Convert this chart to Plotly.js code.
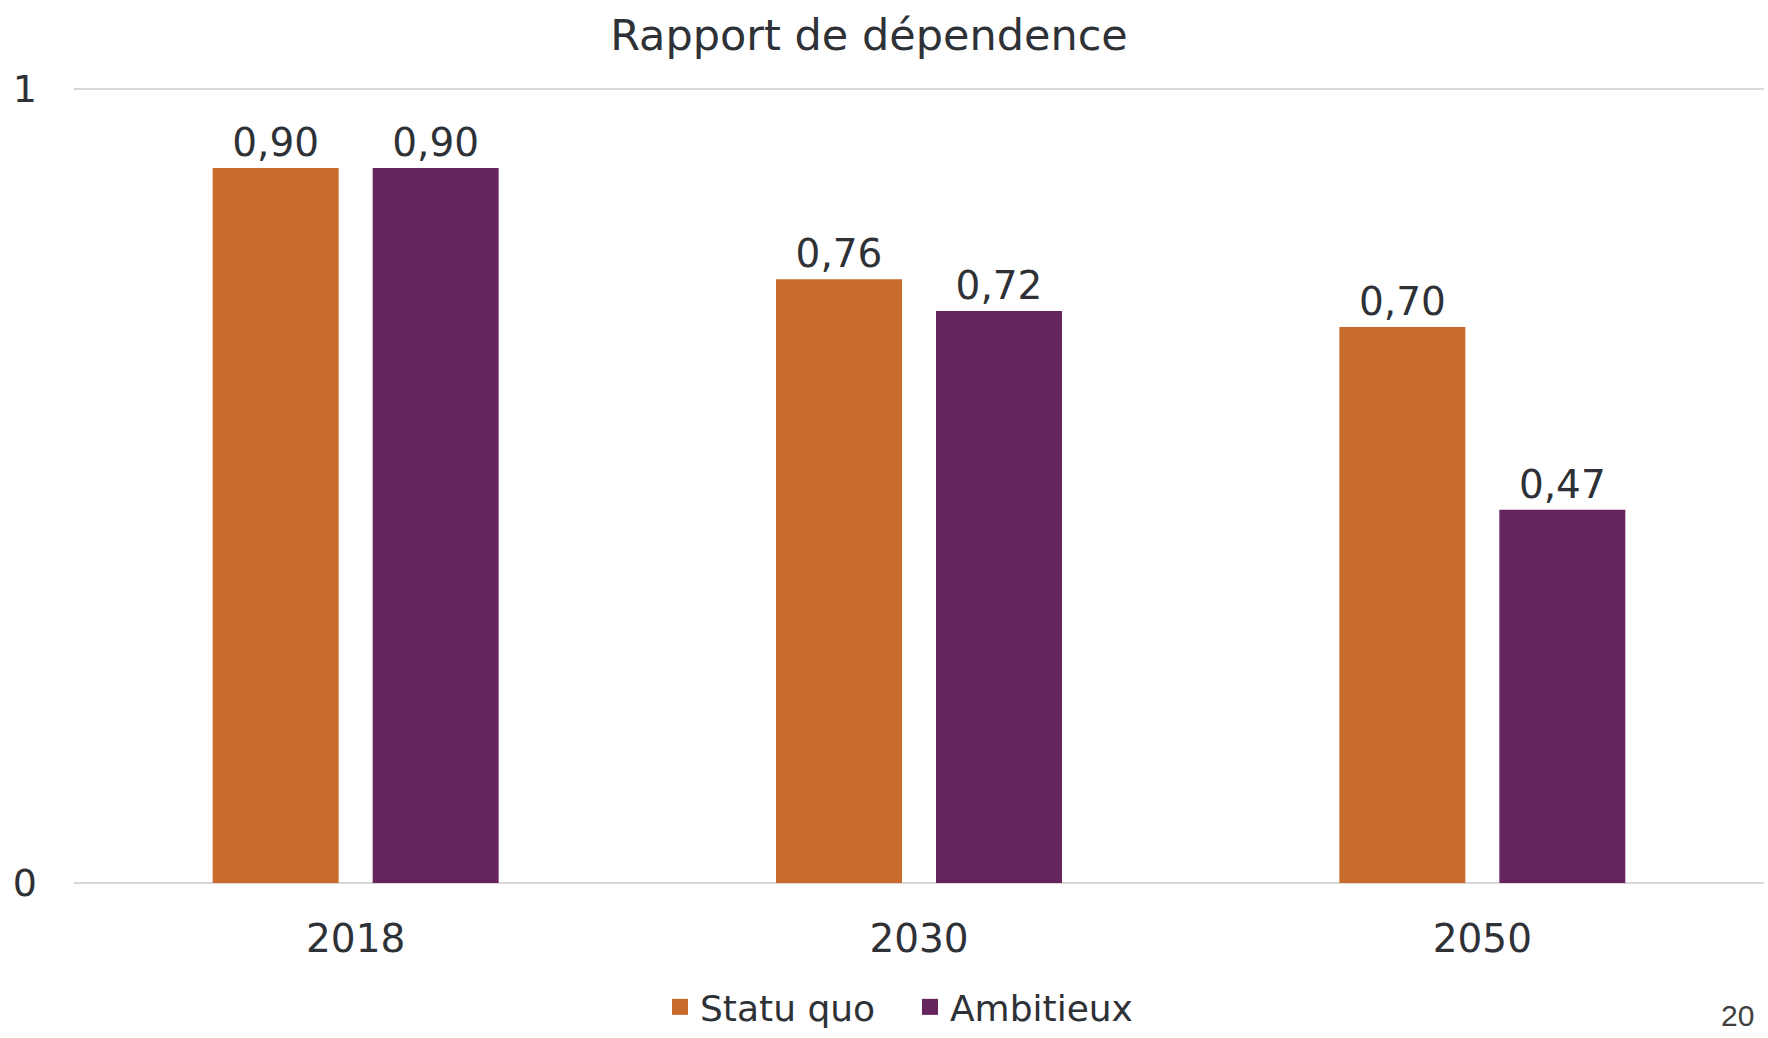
<!DOCTYPE html>
<html>
<head>
<meta charset="utf-8">
<script src="https://cdn.plot.ly/plotly-3.0.1.min.js"></script>
<style>html,body{margin:0;padding:0;background:#fff;}#chart{width:1768px;height:1038px;}</style>
</head>
<body>
<div id="chart"></div>
<script>
var categories = ["2018", "2030", "2050"];
var statuQuo = [0.90, 0.76, 0.70];
var ambitieux = [0.90, 0.72, 0.47];
var seriesNames = ["Statu quo", "Ambitieux"];
var seriesColors = ["#C86B2D", "#66245F"];
var yTickVals = [0, 1];
var yTickText = ["0", "1"];
var pageNumber = "20";

var FONT = "DejaVu Sans, sans-serif";
var TXT = "#2E3136";

function barTrace(name, values, color) {
  return {
    type: "bar",
    name: name,
    x: categories,
    y: values,
    marker: {color: color, line: {width: 0}},
    texttemplate: "%{y:.2f}",
    textposition: "outside",
    cliponaxis: false,
    textfont: {family: FONT, size: 39, color: TXT},
    showlegend: false,
    hoverinfo: "skip"
  };
}

function legendTrace(name, color) {
  return {
    type: "scatter",
    mode: "markers",
    name: name,
    x: [null],
    y: [null],
    marker: {symbol: "square", size: 20, color: color},
    showlegend: true,
    hoverinfo: "skip"
  };
}

var data = [
  barTrace(seriesNames[0], statuQuo, seriesColors[0]),
  barTrace(seriesNames[1], ambitieux, seriesColors[1]),
  legendTrace(seriesNames[0], seriesColors[0]),
  legendTrace(seriesNames[1], seriesColors[1])
];

var layout = {
  width: 1768,
  height: 1038,
  paper_bgcolor: "#ffffff",
  plot_bgcolor: "#ffffff",
  separators: ", ",
  font: {family: FONT, color: TXT},
  margin: {l: 74, r: 4, t: 87, b: 155, pad: 0},
  title: {
    text: "Rapport de dépendence",
    font: {family: FONT, size: 43, color: TXT},
    x: 0.4915, xanchor: "center", xref: "container",
    y: 0.966, yanchor: "middle", yref: "container"
  },
  barmode: "group",
  bargap: 0.432,
  bargroupgap: 0.2125,
  xaxis: {
    type: "category",
    tickfont: {family: FONT, size: 39, color: TXT},
    showline: false,
    showgrid: false,
    ticks: "",
    ticklabelstandoff: 29,
    fixedrange: true
  },
  yaxis: {
    range: [0, 1.002],
    tickvals: yTickVals,
    ticktext: yTickText,
    tickfont: {family: FONT, size: 38, color: TXT},
    showgrid: true,
    gridcolor: "#D9D9D9",
    gridwidth: 2,
    zeroline: true,
    zerolinecolor: "#D9D9D9",
    zerolinewidth: 2,
    showline: false,
    ticks: "",
    ticklabelstandoff: 36,
    fixedrange: true
  },
  showlegend: true,
  legend: {
    orientation: "h",
    x: 0.5147, xanchor: "center", xref: "container",
    y: 0.0299, yanchor: "middle", yref: "container",
    font: {family: FONT, size: 36, color: TXT},
    itemwidth: 30,
    entrywidth: 205,
    traceorder: "normal"
  },
  annotations: [{
    text: pageNumber,
    xref: "paper", yref: "paper",
    x: 0.9953, xanchor: "right",
    y: -0.166, yanchor: "middle",
    showarrow: false,
    font: {family: "Liberation Sans, Arial, sans-serif", size: 30, color: "#404040"}
  }]
};

Plotly.newPlot("chart", data, layout, {staticPlot: true, displayModeBar: false});
</script>
</body>
</html>
